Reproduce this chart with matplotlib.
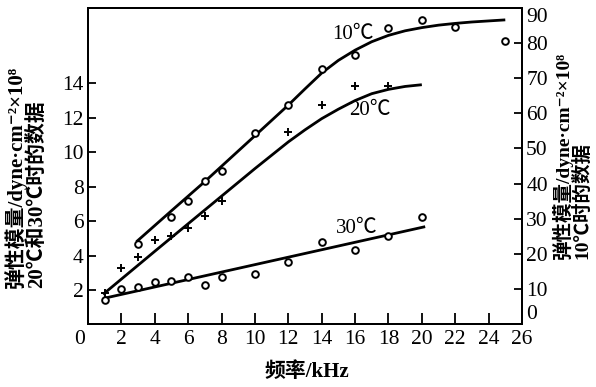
import matplotlib
matplotlib.use("Agg")
import matplotlib.pyplot as plt

# ---------------- data ----------------
# 10 ℃ measurements (right axis, 10^8 dyne/cm^2)
x10 = [3, 5, 6, 7, 8, 10, 12, 14, 16, 18, 20, 22, 25]
y10 = [23.0, 30.5, 35.0, 40.8, 43.5, 54.3, 62.3, 72.5, 76.4, 84.1, 86.5, 84.4, 80.5]
# 10 ℃ fitted curve
cx10 = [2.9, 5, 7, 10, 12, 13, 14, 15, 16, 17, 18, 19, 20, 21, 22, 23, 24, 25]
cy10 = [23.5, 32.3, 40.6, 53.6, 62.3, 66.9, 71.4, 75.0, 77.9, 80.3, 82.1, 83.4, 84.3, 85.0, 85.5, 85.9, 86.2, 86.5]

# 20 ℃ measurements (left axis)
x20 = [1, 2, 3, 4, 5, 6, 7, 8, 12, 14, 16, 18]
y20 = [1.8, 3.3, 3.9, 4.9, 5.15, 5.6, 6.3, 7.15, 11.2, 12.75, 13.85, 13.85]
# 20 ℃ fitted curve
cx20 = [0.9, 4, 8, 10, 12, 13, 14, 15, 16, 17, 18, 19, 20]
cy20 = [1.75, 4.25, 7.45, 9.05, 10.6, 11.3, 11.95, 12.5, 13.0, 13.4, 13.65, 13.82, 13.92]

# 30 ℃ measurements (left axis)
x30 = [1, 2, 3, 4, 5, 6, 7, 8, 10, 12, 14, 16, 18, 20]
y30 = [1.45, 2.05, 2.2, 2.45, 2.5, 2.75, 2.3, 2.75, 2.95, 3.6, 4.8, 4.3, 5.15, 6.25]
# 30 ℃ fitted line
cx30 = [1, 20.2]
cy30 = [1.53, 5.68]

xticks = list(range(2, 27, 2))
yticks_left = list(range(2, 15, 2))
yticks_right = list(range(0, 91, 10))

curve_labels = ["10℃", "20℃", "30℃"]
xlabel = "频率/kHz"
ylabel_left = ["弹性模量/dyne·cm⁻²×10⁸", "20℃和30℃时的数据"]
ylabel_right = ["弹性模量/dyne·cm⁻²×10⁸", "10℃时的数据"]

# ---------------- drawing ----------------
FAM = ["Liberation Serif", "Noto Sans CJK SC", "DejaVu Sans"]
plt.rcParams["font.family"] = FAM

fig = plt.figure(figsize=(5.96, 3.87), dpi=100)
ax = fig.add_axes([0.1477, 0.1615, 0.7281, 0.819])
ax2 = ax.twinx()

ax.set_xlim(0, 26)
ax.set_ylim(0, 18.4)
ax2.set_ylim(0, 90)

lw_spine = 1.4
for a in (ax, ax2):
    for s in a.spines.values():
        s.set_linewidth(lw_spine)

TS = 15.5
ax.set_xticks(xticks)
ax.set_yticks(yticks_left)
ax2.set_yticks(yticks_right)
ax.tick_params(axis="both", direction="in", length=6, width=1.3, labelsize=TS, pad=3)
ax2.tick_params(axis="y", direction="in", length=6, width=1.3, labelsize=TS, pad=3)
ax.tick_params(axis="x", length=8, pad=4)

# right-axis end labels sit inside the corners
rlabels = ax2.get_yticklabels()
rlabels[0].set_va("bottom")
rlabels[-1].set_va("top")

# shared origin label
ax.annotate("0", xy=(0, 0), xycoords="data", xytext=(-6, -4), textcoords="offset points",
            ha="center", va="top", fontsize=TS)

# curves
ax2.plot(cx10, cy10, color="black", lw=2.0, solid_capstyle="butt")
ax.plot(cx20, cy20, color="black", lw=2.0, solid_capstyle="butt")
ax.plot(cx30, cy30, color="black", lw=2.0, solid_capstyle="butt")

# markers
ax2.plot(x10, y10, linestyle="none", marker="o", ms=4.8, mfc="white", mec="black", mew=1.4)
ax.plot(x20, y20, linestyle="none", marker="+", ms=6, mec="black", mew=1.4)
ax.plot(x30, y30, linestyle="none", marker="o", ms=4.8, mfc="white", mec="black", mew=1.4)

# curve labels
ax2.text(15.85, 82.4, curve_labels[0], ha="center", va="center", fontsize=15)
ax.text(16.9, 12.4, curve_labels[1], ha="center", va="center", fontsize=15)
ax.text(16.1, 5.6, curve_labels[2], ha="center", va="center", fontsize=15)

# axis labels
fig.text(307 / 596, 1 - 372 / 387, xlabel, ha="center", va="center", fontsize=15,
         fontweight="bold")
fig.text(15 / 596, 1 - 288 / 387, ylabel_left[0], rotation=90, ha="center", va="bottom",
         fontsize=15, fontweight="bold")
fig.text(37 / 596, 1 - 288 / 387, ylabel_left[1], rotation=90, ha="center", va="bottom",
         fontsize=15, fontweight="bold")
fig.text(562 / 596, 1 - 259 / 387, ylabel_right[0], rotation=90, ha="center", va="bottom",
         fontsize=14, fontweight="bold")
fig.text(582 / 596, 1 - 259 / 387, ylabel_right[1], rotation=90, ha="center", va="bottom",
         fontsize=14, fontweight="bold")

fig.savefig("out.png", dpi=100, facecolor="white")
